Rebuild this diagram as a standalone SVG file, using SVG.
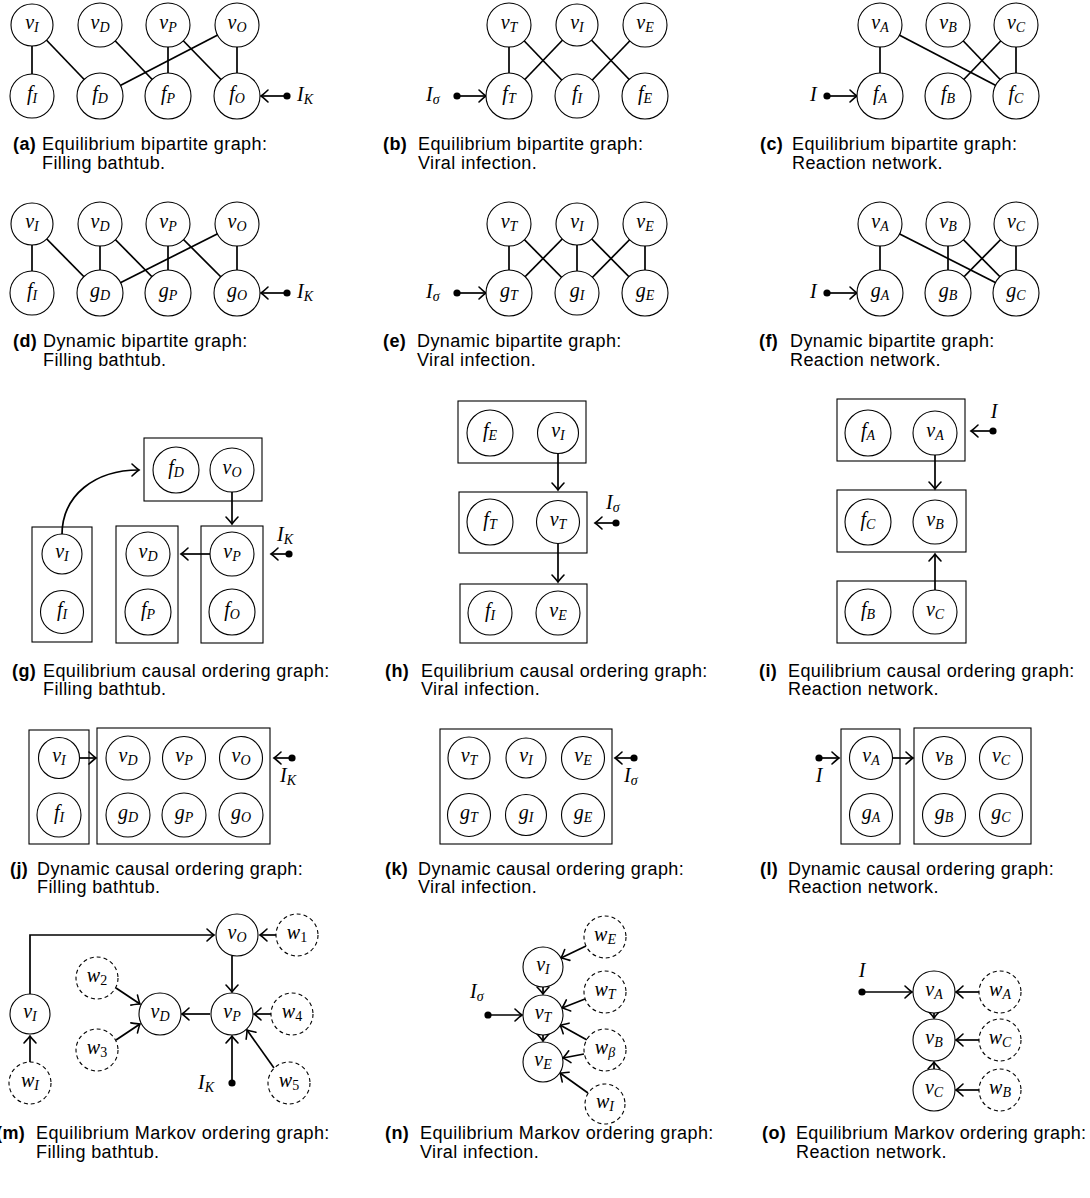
<svg xmlns="http://www.w3.org/2000/svg" width="1090" height="1198" viewBox="0 0 1090 1198">
<defs>
<marker id="ah" markerUnits="userSpaceOnUse" markerWidth="14" markerHeight="14" viewBox="-8 -7 10 14" refX="0" refY="0" orient="auto" overflow="visible">
<path d="M -7 -6 Q -2 -1.3 0 0 Q -2 1.3 -7 6" fill="none" stroke="#000" stroke-width="1.6" stroke-linecap="round"/>
</marker>
<style>
.n circle{fill:#fff;stroke:#000;stroke-width:1.1}
.d circle{stroke-dasharray:4 3}
.e{stroke:#000;stroke-width:1.7;fill:none}
.a{marker-end:url(#ah)}
.bx{fill:none;stroke:#000;stroke-width:1.1}
.dot{fill:#000}
.m{font-family:"Liberation Serif",serif;font-style:italic;font-size:20px;text-anchor:middle}
.ms{font-family:"Liberation Serif",serif;font-style:italic;font-size:20px;text-anchor:start}
.s{font-size:14px}
.u{font-style:normal}
.c{font-family:"Liberation Sans",Arial,sans-serif;font-size:18px;letter-spacing:0.4px}
.b{font-weight:bold}
</style>
</defs>
<rect width="1090" height="1198" fill="#fff"/>

<!-- ===================== connectors ===================== -->
<g id="connectors">
<!-- (a) -->
<line class="e" x1="32" y1="25" x2="32" y2="96"/>
<line class="e" x1="32" y1="25" x2="100" y2="96"/>
<line class="e" x1="100" y1="25" x2="168" y2="96"/>
<line class="e" x1="168" y1="25" x2="168" y2="96"/>
<line class="e" x1="168" y1="25" x2="237" y2="96"/>
<line class="e" x1="237" y1="25" x2="100" y2="96"/>
<line class="e" x1="237" y1="25" x2="237" y2="96"/>
<line class="e a" x1="287" y1="96" x2="261" y2="96"/>
<!-- (b) -->
<line class="e" x1="509" y1="25" x2="509" y2="96"/>
<line class="e" x1="509" y1="25" x2="577" y2="96"/>
<line class="e" x1="577" y1="25" x2="509" y2="96"/>
<line class="e" x1="577" y1="25" x2="645" y2="96"/>
<line class="e" x1="645" y1="25" x2="577" y2="96"/>
<line class="e a" x1="457" y1="96" x2="486" y2="96"/>
<!-- (c) -->
<line class="e" x1="880" y1="25" x2="880" y2="96"/>
<line class="e" x1="880" y1="25" x2="1016" y2="96"/>
<line class="e" x1="948" y1="25" x2="1016" y2="96"/>
<line class="e" x1="1016" y1="25" x2="948" y2="96"/>
<line class="e" x1="1016" y1="25" x2="1016" y2="96"/>
<line class="e a" x1="827" y1="96" x2="857" y2="96"/>
<!-- (d) -->
<line class="e" x1="32" y1="224" x2="32" y2="293"/>
<line class="e" x1="32" y1="224" x2="100" y2="293"/>
<line class="e" x1="100" y1="224" x2="100" y2="293"/>
<line class="e" x1="100" y1="224" x2="168" y2="293"/>
<line class="e" x1="168" y1="224" x2="168" y2="293"/>
<line class="e" x1="168" y1="224" x2="237" y2="293"/>
<line class="e" x1="237" y1="224" x2="100" y2="293"/>
<line class="e" x1="237" y1="224" x2="237" y2="293"/>
<line class="e a" x1="287" y1="293" x2="261" y2="293"/>
<!-- (e) -->
<line class="e" x1="509" y1="224" x2="509" y2="293"/>
<line class="e" x1="509" y1="224" x2="577" y2="293"/>
<line class="e" x1="577" y1="224" x2="509" y2="293"/>
<line class="e" x1="577" y1="224" x2="577" y2="293"/>
<line class="e" x1="577" y1="224" x2="645" y2="293"/>
<line class="e" x1="645" y1="224" x2="577" y2="293"/>
<line class="e" x1="645" y1="224" x2="645" y2="293"/>
<line class="e a" x1="457" y1="293" x2="486" y2="293"/>
<!-- (f) -->
<line class="e" x1="880" y1="224" x2="880" y2="293"/>
<line class="e" x1="880" y1="224" x2="1016" y2="293"/>
<line class="e" x1="948" y1="224" x2="948" y2="293"/>
<line class="e" x1="948" y1="224" x2="1016" y2="293"/>
<line class="e" x1="1016" y1="224" x2="948" y2="293"/>
<line class="e" x1="1016" y1="224" x2="1016" y2="293"/>
<line class="e a" x1="827" y1="293" x2="857" y2="293"/>
<!-- (g) -->
<path class="e a" d="M 62 535 C 62 495 95 470 139 470"/>
<line class="e a" x1="232" y1="492" x2="232" y2="524"/>
<line class="e a" x1="210" y1="554" x2="181" y2="554"/>
<line class="e a" x1="289" y1="554" x2="271" y2="554"/>
<!-- (h) -->
<line class="e a" x1="558" y1="454" x2="558" y2="490"/>
<line class="e a" x1="558" y1="543" x2="558" y2="582"/>
<line class="e a" x1="616" y1="523" x2="595" y2="523"/>
<!-- (i) -->
<line class="e a" x1="935" y1="455" x2="935" y2="489"/>
<line class="e a" x1="935" y1="590" x2="935" y2="554"/>
<line class="e a" x1="993" y1="431" x2="971" y2="431"/>
<!-- (j) -->
<line class="e a" x1="80" y1="758" x2="96" y2="758"/>
<line class="e a" x1="292" y1="758" x2="274" y2="758"/>
<!-- (k) -->
<line class="e a" x1="634" y1="758" x2="615" y2="758"/>
<!-- (l) -->
<line class="e a" x1="819" y1="758" x2="839" y2="758"/>
<line class="e a" x1="893" y1="758" x2="913" y2="758"/>
<!-- (m) -->
<path class="e a" d="M 30 994 V 935 H 214"/>
<line class="e a" x1="30" y1="1062" x2="30" y2="1036"/>
<line class="e a" x1="276" y1="935" x2="260" y2="935"/>
<line class="e a" x1="232" y1="956" x2="232" y2="992"/>
<line class="e a" x1="210" y1="1014" x2="182" y2="1014"/>
<line class="e a" x1="271" y1="1014" x2="254" y2="1014"/>
<line class="e a" x1="116" y1="988" x2="140" y2="1004"/>
<line class="e a" x1="116" y1="1040" x2="140" y2="1024"/>
<line class="e a" x1="274" y1="1068" x2="247" y2="1030"/>
<line class="e a" x1="232" y1="1083" x2="232" y2="1036"/>
<!-- (n) -->
<line class="e a" x1="586" y1="946" x2="561" y2="958"/>
<line class="e a" x1="543" y1="987" x2="543" y2="994"/>
<line class="e a" x1="585" y1="999" x2="562" y2="1008"/>
<line class="e a" x1="587" y1="1040" x2="560" y2="1025"/>
<line class="e a" x1="584" y1="1054" x2="563" y2="1058"/>
<line class="e a" x1="543" y1="1035" x2="543" y2="1041"/>
<line class="e a" x1="588" y1="1093" x2="560" y2="1073"/>
<line class="e a" x1="488" y1="1015" x2="522" y2="1015"/>
<!-- (o) -->
<line class="e a" x1="862" y1="992" x2="912" y2="992"/>
<line class="e a" x1="979" y1="992" x2="956" y2="992"/>
<line class="e a" x1="934" y1="1013" x2="934" y2="1018"/>
<line class="e a" x1="979" y1="1040" x2="956" y2="1040"/>
<line class="e a" x1="934" y1="1069" x2="934" y2="1062"/>
<line class="e a" x1="979" y1="1090" x2="956" y2="1090"/>
</g>

<!-- ===================== boxes ===================== -->
<g id="boxes">
<rect class="bx" x="144" y="438" width="118" height="63"/>
<rect class="bx" x="32" y="527" width="60" height="115"/>
<rect class="bx" x="116" y="526" width="62" height="117"/>
<rect class="bx" x="201" y="526" width="62" height="117"/>
<rect class="bx" x="458" y="401" width="128" height="62"/>
<rect class="bx" x="459" y="492" width="128" height="61"/>
<rect class="bx" x="460" y="584" width="127" height="59"/>
<rect class="bx" x="837" y="399" width="128" height="62"/>
<rect class="bx" x="837" y="490" width="129" height="62"/>
<rect class="bx" x="837" y="581" width="129" height="62"/>
<rect class="bx" x="29" y="730" width="60" height="114"/>
<rect class="bx" x="97" y="728" width="173" height="116"/>
<rect class="bx" x="440" y="729" width="172" height="115"/>
<rect class="bx" x="841" y="729" width="59" height="115"/>
<rect class="bx" x="914" y="728" width="117" height="116"/>
</g>

<!-- ===================== input dots & labels ===================== -->
<g id="inputs">
<circle class="dot" cx="287" cy="96" r="3.6"/><text class="ms" x="297" y="101">I<tspan class="s" dy="3">K</tspan></text>
<circle class="dot" cx="457" cy="96" r="3.6"/><text class="ms" x="426" y="101">I<tspan class="s" dy="3">σ</tspan></text>
<circle class="dot" cx="827" cy="96" r="3.6"/><text class="ms" x="810" y="101">I</text>
<circle class="dot" cx="287" cy="293" r="3.6"/><text class="ms" x="297" y="298">I<tspan class="s" dy="3">K</tspan></text>
<circle class="dot" cx="457" cy="293" r="3.6"/><text class="ms" x="426" y="298">I<tspan class="s" dy="3">σ</tspan></text>
<circle class="dot" cx="827" cy="293" r="3.6"/><text class="ms" x="810" y="298">I</text>
<circle class="dot" cx="289" cy="554" r="3.6"/><text class="ms" x="277" y="541">I<tspan class="s" dy="3">K</tspan></text>
<circle class="dot" cx="616" cy="523" r="3.6"/><text class="ms" x="606" y="509">I<tspan class="s" dy="3">σ</tspan></text>
<circle class="dot" cx="993" cy="431" r="3.6"/><text class="m" x="994" y="418">I</text>
<circle class="dot" cx="292" cy="758" r="3.6"/><text class="ms" x="280" y="782">I<tspan class="s" dy="3">K</tspan></text>
<circle class="dot" cx="634" cy="758" r="3.6"/><text class="ms" x="624" y="782">I<tspan class="s" dy="3">σ</tspan></text>
<circle class="dot" cx="819" cy="758" r="3.6"/><text class="m" x="819" y="782">I</text>
<circle class="dot" cx="232" cy="1083" r="3.6"/><text class="ms" x="198" y="1089">I<tspan class="s" dy="3">K</tspan></text>
<circle class="dot" cx="488" cy="1015" r="3.6"/><text class="ms" x="470" y="998">I<tspan class="s" dy="3">σ</tspan></text>
<circle class="dot" cx="862" cy="992" r="3.6"/><text class="m" x="862" y="977">I</text>
</g>

<!-- ===================== (a) ===================== -->
<g id="a-vI" class="n"><circle cx="32" cy="25" r="21"/><text class="m" x="32" y="29">v<tspan class="s" dy="3">I</tspan></text></g>
<g id="a-vD" class="n"><circle cx="100" cy="25" r="22"/><text class="m" x="100" y="29">v<tspan class="s" dy="3">D</tspan></text></g>
<g id="a-vP" class="n"><circle cx="168" cy="25" r="22"/><text class="m" x="168" y="29">v<tspan class="s" dy="3">P</tspan></text></g>
<g id="a-vO" class="n"><circle cx="237" cy="25" r="22"/><text class="m" x="237" y="29">v<tspan class="s" dy="3">O</tspan></text></g>
<g id="a-fI" class="n"><circle cx="32" cy="96" r="22"/><text class="m" x="32" y="100">f<tspan class="s" dy="3">I</tspan></text></g>
<g id="a-fD" class="n"><circle cx="100" cy="96" r="23"/><text class="m" x="100" y="100">f<tspan class="s" dy="3">D</tspan></text></g>
<g id="a-fP" class="n"><circle cx="168" cy="96" r="23"/><text class="m" x="168" y="100">f<tspan class="s" dy="3">P</tspan></text></g>
<g id="a-fO" class="n"><circle cx="237" cy="96" r="23"/><text class="m" x="237" y="100">f<tspan class="s" dy="3">O</tspan></text></g>

<!-- (b) -->
<g id="b-vT" class="n"><circle cx="509" cy="25" r="22"/><text class="m" x="509" y="29">v<tspan class="s" dy="3">T</tspan></text></g>
<g id="b-vI" class="n"><circle cx="577" cy="25" r="21"/><text class="m" x="577" y="29">v<tspan class="s" dy="3">I</tspan></text></g>
<g id="b-vE" class="n"><circle cx="645" cy="25" r="22"/><text class="m" x="645" y="29">v<tspan class="s" dy="3">E</tspan></text></g>
<g id="b-fT" class="n"><circle cx="509" cy="96" r="23"/><text class="m" x="509" y="100">f<tspan class="s" dy="3">T</tspan></text></g>
<g id="b-fI" class="n"><circle cx="577" cy="96" r="22"/><text class="m" x="577" y="100">f<tspan class="s" dy="3">I</tspan></text></g>
<g id="b-fE" class="n"><circle cx="645" cy="96" r="23"/><text class="m" x="645" y="100">f<tspan class="s" dy="3">E</tspan></text></g>

<!-- (c) -->
<g id="c-vA" class="n"><circle cx="880" cy="25" r="22"/><text class="m" x="880" y="29">v<tspan class="s" dy="3">A</tspan></text></g>
<g id="c-vB" class="n"><circle cx="948" cy="25" r="22"/><text class="m" x="948" y="29">v<tspan class="s" dy="3">B</tspan></text></g>
<g id="c-vC" class="n"><circle cx="1016" cy="25" r="22"/><text class="m" x="1016" y="29">v<tspan class="s" dy="3">C</tspan></text></g>
<g id="c-fA" class="n"><circle cx="880" cy="96" r="23"/><text class="m" x="880" y="100">f<tspan class="s" dy="3">A</tspan></text></g>
<g id="c-fB" class="n"><circle cx="948" cy="96" r="23"/><text class="m" x="948" y="100">f<tspan class="s" dy="3">B</tspan></text></g>
<g id="c-fC" class="n"><circle cx="1016" cy="96" r="23"/><text class="m" x="1016" y="100">f<tspan class="s" dy="3">C</tspan></text></g>

<!-- (d) -->
<g id="d-vI" class="n"><circle cx="32" cy="224" r="21"/><text class="m" x="32" y="228">v<tspan class="s" dy="3">I</tspan></text></g>
<g id="d-vD" class="n"><circle cx="100" cy="224" r="22"/><text class="m" x="100" y="228">v<tspan class="s" dy="3">D</tspan></text></g>
<g id="d-vP" class="n"><circle cx="168" cy="224" r="22"/><text class="m" x="168" y="228">v<tspan class="s" dy="3">P</tspan></text></g>
<g id="d-vO" class="n"><circle cx="237" cy="224" r="22"/><text class="m" x="237" y="228">v<tspan class="s" dy="3">O</tspan></text></g>
<g id="d-fI" class="n"><circle cx="32" cy="293" r="22"/><text class="m" x="32" y="297">f<tspan class="s" dy="3">I</tspan></text></g>
<g id="d-gD" class="n"><circle cx="100" cy="293" r="23"/><text class="m" x="100" y="297">g<tspan class="s" dy="3">D</tspan></text></g>
<g id="d-gP" class="n"><circle cx="168" cy="293" r="23"/><text class="m" x="168" y="297">g<tspan class="s" dy="3">P</tspan></text></g>
<g id="d-gO" class="n"><circle cx="237" cy="293" r="23"/><text class="m" x="237" y="297">g<tspan class="s" dy="3">O</tspan></text></g>

<!-- (e) -->
<g id="e-vT" class="n"><circle cx="509" cy="224" r="22"/><text class="m" x="509" y="228">v<tspan class="s" dy="3">T</tspan></text></g>
<g id="e-vI" class="n"><circle cx="577" cy="224" r="21"/><text class="m" x="577" y="228">v<tspan class="s" dy="3">I</tspan></text></g>
<g id="e-vE" class="n"><circle cx="645" cy="224" r="22"/><text class="m" x="645" y="228">v<tspan class="s" dy="3">E</tspan></text></g>
<g id="e-gT" class="n"><circle cx="509" cy="293" r="23"/><text class="m" x="509" y="297">g<tspan class="s" dy="3">T</tspan></text></g>
<g id="e-gI" class="n"><circle cx="577" cy="293" r="22"/><text class="m" x="577" y="297">g<tspan class="s" dy="3">I</tspan></text></g>
<g id="e-gE" class="n"><circle cx="645" cy="293" r="23"/><text class="m" x="645" y="297">g<tspan class="s" dy="3">E</tspan></text></g>

<!-- (f) -->
<g id="f-vA" class="n"><circle cx="880" cy="224" r="22"/><text class="m" x="880" y="228">v<tspan class="s" dy="3">A</tspan></text></g>
<g id="f-vB" class="n"><circle cx="948" cy="224" r="22"/><text class="m" x="948" y="228">v<tspan class="s" dy="3">B</tspan></text></g>
<g id="f-vC" class="n"><circle cx="1016" cy="224" r="22"/><text class="m" x="1016" y="228">v<tspan class="s" dy="3">C</tspan></text></g>
<g id="f-gA" class="n"><circle cx="880" cy="293" r="23"/><text class="m" x="880" y="297">g<tspan class="s" dy="3">A</tspan></text></g>
<g id="f-gB" class="n"><circle cx="948" cy="293" r="23"/><text class="m" x="948" y="297">g<tspan class="s" dy="3">B</tspan></text></g>
<g id="f-gC" class="n"><circle cx="1016" cy="293" r="23"/><text class="m" x="1016" y="297">g<tspan class="s" dy="3">C</tspan></text></g>

<!-- (g) -->
<g id="g-fD" class="n"><circle cx="176" cy="470" r="23"/><text class="m" x="176" y="474">f<tspan class="s" dy="3">D</tspan></text></g>
<g id="g-vO" class="n"><circle cx="232" cy="470" r="22"/><text class="m" x="232" y="474">v<tspan class="s" dy="3">O</tspan></text></g>
<g id="g-vI" class="n"><circle cx="62" cy="554" r="20"/><text class="m" x="62" y="558">v<tspan class="s" dy="3">I</tspan></text></g>
<g id="g-fI" class="n"><circle cx="62" cy="612" r="21.5"/><text class="m" x="62" y="616">f<tspan class="s" dy="3">I</tspan></text></g>
<g id="g-vD" class="n"><circle cx="148" cy="554" r="22"/><text class="m" x="148" y="558">v<tspan class="s" dy="3">D</tspan></text></g>
<g id="g-fP" class="n"><circle cx="148" cy="612" r="23"/><text class="m" x="148" y="616">f<tspan class="s" dy="3">P</tspan></text></g>
<g id="g-vP" class="n"><circle cx="232" cy="554" r="22"/><text class="m" x="232" y="558">v<tspan class="s" dy="3">P</tspan></text></g>
<g id="g-fO" class="n"><circle cx="232" cy="612" r="23"/><text class="m" x="232" y="616">f<tspan class="s" dy="3">O</tspan></text></g>

<!-- (h) -->
<g id="h-fE" class="n"><circle cx="490" cy="433" r="23"/><text class="m" x="490" y="437">f<tspan class="s" dy="3">E</tspan></text></g>
<g id="h-vI" class="n"><circle cx="558" cy="433" r="20.5"/><text class="m" x="558" y="437">v<tspan class="s" dy="3">I</tspan></text></g>
<g id="h-fT" class="n"><circle cx="490" cy="522" r="23"/><text class="m" x="490" y="526">f<tspan class="s" dy="3">T</tspan></text></g>
<g id="h-vT" class="n"><circle cx="558" cy="522" r="21.5"/><text class="m" x="558" y="526">v<tspan class="s" dy="3">T</tspan></text></g>
<g id="h-fI" class="n"><circle cx="490" cy="613" r="22"/><text class="m" x="490" y="617">f<tspan class="s" dy="3">I</tspan></text></g>
<g id="h-vE" class="n"><circle cx="558" cy="613" r="22"/><text class="m" x="558" y="617">v<tspan class="s" dy="3">E</tspan></text></g>

<!-- (i) -->
<g id="i-fA" class="n"><circle cx="868" cy="433" r="23"/><text class="m" x="868" y="437">f<tspan class="s" dy="3">A</tspan></text></g>
<g id="i-vA" class="n"><circle cx="935" cy="433" r="22"/><text class="m" x="935" y="437">v<tspan class="s" dy="3">A</tspan></text></g>
<g id="i-fC" class="n"><circle cx="868" cy="522" r="23"/><text class="m" x="868" y="526">f<tspan class="s" dy="3">C</tspan></text></g>
<g id="i-vB" class="n"><circle cx="935" cy="522" r="22"/><text class="m" x="935" y="526">v<tspan class="s" dy="3">B</tspan></text></g>
<g id="i-fB" class="n"><circle cx="868" cy="612" r="23"/><text class="m" x="868" y="616">f<tspan class="s" dy="3">B</tspan></text></g>
<g id="i-vC" class="n"><circle cx="935" cy="612" r="22"/><text class="m" x="935" y="616">v<tspan class="s" dy="3">C</tspan></text></g>

<!-- (j) -->
<g id="j-vI" class="n"><circle cx="59" cy="758" r="20.5"/><text class="m" x="59" y="762">v<tspan class="s" dy="3">I</tspan></text></g>
<g id="j-fI" class="n"><circle cx="59" cy="815" r="22"/><text class="m" x="59" y="819">f<tspan class="s" dy="3">I</tspan></text></g>
<g id="j-vD" class="n"><circle cx="128" cy="758" r="22"/><text class="m" x="128" y="762">v<tspan class="s" dy="3">D</tspan></text></g>
<g id="j-vP" class="n"><circle cx="184" cy="758" r="21.5"/><text class="m" x="184" y="762">v<tspan class="s" dy="3">P</tspan></text></g>
<g id="j-vO" class="n"><circle cx="241" cy="758" r="21.5"/><text class="m" x="241" y="762">v<tspan class="s" dy="3">O</tspan></text></g>
<g id="j-gD" class="n"><circle cx="128" cy="815" r="22"/><text class="m" x="128" y="819">g<tspan class="s" dy="3">D</tspan></text></g>
<g id="j-gP" class="n"><circle cx="184" cy="815" r="22"/><text class="m" x="184" y="819">g<tspan class="s" dy="3">P</tspan></text></g>
<g id="j-gO" class="n"><circle cx="241" cy="815" r="22"/><text class="m" x="241" y="819">g<tspan class="s" dy="3">O</tspan></text></g>

<!-- (k) -->
<g id="k-vT" class="n"><circle cx="469" cy="758" r="21"/><text class="m" x="469" y="762">v<tspan class="s" dy="3">T</tspan></text></g>
<g id="k-vI" class="n"><circle cx="526" cy="758" r="20"/><text class="m" x="526" y="762">v<tspan class="s" dy="3">I</tspan></text></g>
<g id="k-vE" class="n"><circle cx="583" cy="758" r="21.5"/><text class="m" x="583" y="762">v<tspan class="s" dy="3">E</tspan></text></g>
<g id="k-gT" class="n"><circle cx="469" cy="815" r="21.5"/><text class="m" x="469" y="819">g<tspan class="s" dy="3">T</tspan></text></g>
<g id="k-gI" class="n"><circle cx="526" cy="815" r="20.5"/><text class="m" x="526" y="819">g<tspan class="s" dy="3">I</tspan></text></g>
<g id="k-gE" class="n"><circle cx="583" cy="815" r="21.5"/><text class="m" x="583" y="819">g<tspan class="s" dy="3">E</tspan></text></g>

<!-- (l) -->
<g id="l-vA" class="n"><circle cx="871" cy="758" r="21.5"/><text class="m" x="871" y="762">v<tspan class="s" dy="3">A</tspan></text></g>
<g id="l-gA" class="n"><circle cx="871" cy="815" r="21.5"/><text class="m" x="871" y="819">g<tspan class="s" dy="3">A</tspan></text></g>
<g id="l-vB" class="n"><circle cx="944" cy="758" r="21.5"/><text class="m" x="944" y="762">v<tspan class="s" dy="3">B</tspan></text></g>
<g id="l-vC" class="n"><circle cx="1001" cy="758" r="21.5"/><text class="m" x="1001" y="762">v<tspan class="s" dy="3">C</tspan></text></g>
<g id="l-gB" class="n"><circle cx="944" cy="815" r="21.5"/><text class="m" x="944" y="819">g<tspan class="s" dy="3">B</tspan></text></g>
<g id="l-gC" class="n"><circle cx="1001" cy="815" r="21.5"/><text class="m" x="1001" y="819">g<tspan class="s" dy="3">C</tspan></text></g>

<!-- (m) -->
<g id="m-vO" class="n"><circle cx="237" cy="935" r="21"/><text class="m" x="237" y="939">v<tspan class="s" dy="3">O</tspan></text></g>
<g id="m-w1" class="n d"><circle cx="297" cy="935" r="21"/><text class="m" x="297" y="939">w<tspan class="s u" dy="3">1</tspan></text></g>
<g id="m-w2" class="n d"><circle cx="97" cy="978" r="21"/><text class="m" x="97" y="982">w<tspan class="s u" dy="3">2</tspan></text></g>
<g id="m-vD" class="n"><circle cx="160" cy="1014" r="21"/><text class="m" x="160" y="1018">v<tspan class="s" dy="3">D</tspan></text></g>
<g id="m-vP" class="n"><circle cx="232" cy="1014" r="21"/><text class="m" x="232" y="1018">v<tspan class="s" dy="3">P</tspan></text></g>
<g id="m-w4" class="n d"><circle cx="292" cy="1014" r="21"/><text class="m" x="292" y="1018">w<tspan class="s u" dy="3">4</tspan></text></g>
<g id="m-vI" class="n"><circle cx="30" cy="1014" r="20"/><text class="m" x="30" y="1018">v<tspan class="s" dy="3">I</tspan></text></g>
<g id="m-w3" class="n d"><circle cx="97" cy="1050" r="21"/><text class="m" x="97" y="1054">w<tspan class="s u" dy="3">3</tspan></text></g>
<g id="m-wI" class="n d"><circle cx="30" cy="1083" r="21"/><text class="m" x="30" y="1087">w<tspan class="s" dy="3">I</tspan></text></g>
<g id="m-w5" class="n d"><circle cx="289" cy="1083" r="21"/><text class="m" x="289" y="1087">w<tspan class="s u" dy="3">5</tspan></text></g>

<!-- (n) -->
<g id="n-wE" class="n d"><circle cx="605" cy="937" r="21"/><text class="m" x="605" y="941">w<tspan class="s" dy="3">E</tspan></text></g>
<g id="n-vI" class="n"><circle cx="543" cy="967" r="20"/><text class="m" x="543" y="971">v<tspan class="s" dy="3">I</tspan></text></g>
<g id="n-wT" class="n d"><circle cx="605" cy="992" r="21"/><text class="m" x="605" y="996">w<tspan class="s" dy="3">T</tspan></text></g>
<g id="n-vT" class="n"><circle cx="543" cy="1015" r="20"/><text class="m" x="543" y="1019">v<tspan class="s" dy="3">T</tspan></text></g>
<g id="n-wb" class="n d"><circle cx="605" cy="1050" r="21"/><text class="m" x="605" y="1054">w<tspan class="s" dy="3">β</tspan></text></g>
<g id="n-vE" class="n"><circle cx="543" cy="1062" r="20"/><text class="m" x="543" y="1066">v<tspan class="s" dy="3">E</tspan></text></g>
<g id="n-wI" class="n d"><circle cx="605" cy="1104" r="20"/><text class="m" x="605" y="1108">w<tspan class="s" dy="3">I</tspan></text></g>

<!-- (o) -->
<g id="o-vA" class="n"><circle cx="934" cy="992" r="21"/><text class="m" x="934" y="996">v<tspan class="s" dy="3">A</tspan></text></g>
<g id="o-wA" class="n d"><circle cx="1000" cy="992" r="21"/><text class="m" x="1000" y="996">w<tspan class="s" dy="3">A</tspan></text></g>
<g id="o-vB" class="n"><circle cx="934" cy="1040" r="21"/><text class="m" x="934" y="1044">v<tspan class="s" dy="3">B</tspan></text></g>
<g id="o-wC" class="n d"><circle cx="1000" cy="1040" r="21"/><text class="m" x="1000" y="1044">w<tspan class="s" dy="3">C</tspan></text></g>
<g id="o-vC" class="n"><circle cx="934" cy="1090" r="21"/><text class="m" x="934" y="1094">v<tspan class="s" dy="3">C</tspan></text></g>
<g id="o-wB" class="n d"><circle cx="1000" cy="1090" r="21"/><text class="m" x="1000" y="1094">w<tspan class="s" dy="3">B</tspan></text></g>

<!-- ===================== captions ===================== -->
<g id="captions" class="c">
<text class="b" x="13" y="150">(a)</text><text x="42" y="150">Equilibrium bipartite graph:</text><text x="42" y="169">Filling bathtub.</text>
<text class="b" x="383" y="150">(b)</text><text x="418" y="150">Equilibrium bipartite graph:</text><text x="418" y="169">Viral infection.</text>
<text class="b" x="760" y="150">(c)</text><text x="792" y="150">Equilibrium bipartite graph:</text><text x="792" y="169">Reaction network.</text>
<text class="b" x="13" y="347">(d)</text><text x="43" y="347">Dynamic bipartite graph:</text><text x="43" y="366">Filling bathtub.</text>
<text class="b" x="383" y="347">(e)</text><text x="417" y="347">Dynamic bipartite graph:</text><text x="417" y="366">Viral infection.</text>
<text class="b" x="759" y="347">(f)</text><text x="790" y="347">Dynamic bipartite graph:</text><text x="790" y="366">Reaction network.</text>
<text class="b" x="12" y="677">(g)</text><text x="43" y="677">Equilibrium causal ordering graph:</text><text x="43" y="695">Filling bathtub.</text>
<text class="b" x="385" y="677">(h)</text><text x="421" y="677">Equilibrium causal ordering graph:</text><text x="421" y="695">Viral infection.</text>
<text class="b" x="759" y="677">(i)</text><text x="788" y="677">Equilibrium causal ordering graph:</text><text x="788" y="695">Reaction network.</text>
<text class="b" x="10" y="875">(j)</text><text x="37" y="875">Dynamic causal ordering graph:</text><text x="37" y="893">Filling bathtub.</text>
<text class="b" x="385" y="875">(k)</text><text x="418" y="875">Dynamic causal ordering graph:</text><text x="418" y="893">Viral infection.</text>
<text class="b" x="760" y="875">(l)</text><text x="788" y="875">Dynamic causal ordering graph:</text><text x="788" y="893">Reaction network.</text>
<text class="b" x="-4" y="1139">(m)</text><text x="36" y="1139">Equilibrium Markov ordering graph:</text><text x="36" y="1158">Filling bathtub.</text>
<text class="b" x="385" y="1139">(n)</text><text x="420" y="1139">Equilibrium Markov ordering graph:</text><text x="420" y="1158">Viral infection.</text>
<text class="b" x="762" y="1139">(o)</text><text x="796" y="1139" style="letter-spacing:0.3px">Equilibrium Markov ordering graph:</text><text x="796" y="1158">Reaction network.</text>
</g>
</svg>
